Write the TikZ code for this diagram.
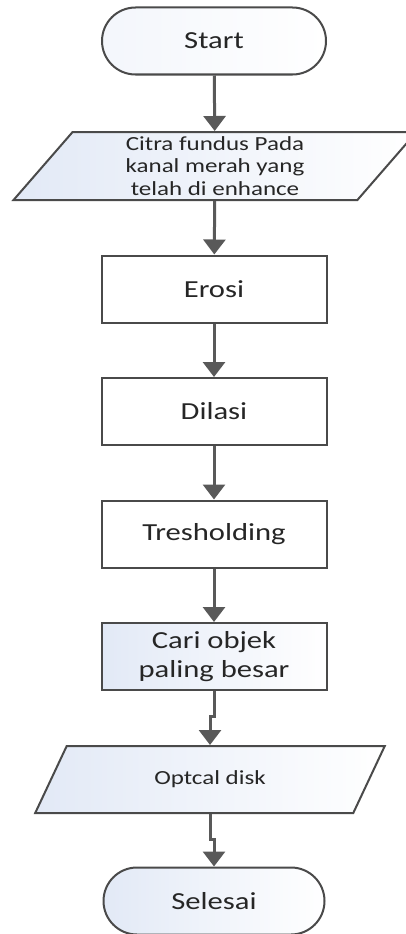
\documentclass[tikz,border=0pt]{standalone}
\usepackage{fontspec}
\setmainfont{Carlito}[FakeStretch=1.25]
\usetikzlibrary{arrows.meta,shapes.geometric,shapes.misc}
\definecolor{paleblue}{HTML}{E2E9F6}
\definecolor{edgegray}{HTML}{4A4A4A}
\tikzset{stepbox/.style={draw=edgegray,line width=2pt,align=center,fill=white,
 minimum width=225pt,minimum height=67pt,font=\fontsize{24.5}{29}\selectfont,inner sep=2pt,text=black!85},
 shadebox/.style={stepbox,left color=paleblue,right color=white},
 term/.style={stepbox,rounded rectangle,minimum width=228pt,left color=paleblue!40,right color=white},
 io/.style={stepbox,trapezium,trapezium left angle=59,trapezium right angle=121,
  trapezium stretches=true,left color=paleblue,right color=white,
  font=\fontsize{20}{22.5}\selectfont},
 arr/.style={-{Triangle[length=15pt,width=22pt]},draw=black!65,line width=3pt}}
\begin{document}
\begin{tikzpicture}[x=1pt,y=-1pt]
\useasboundingbox (0,0) rectangle (406,934);
\node[term] (start) at (214,41) {Start};
\node[io,minimum width=404pt,minimum height=68pt] (citra) at (215,166)
 {Citra fundus Pada\\kanal merah yang\\telah di enhance};
\node[stepbox] (erosi) at (214,289) {Erosi};
\node[stepbox] (dilasi) at (214,411.5) {Dilasi};
\node[stepbox] (thresh) at (214,534) {Tresholding};
\node[shadebox] (cari) at (214,656.5) {Cari objek\\paling besar};
\node[io,minimum width=350pt,minimum height=67pt] (disk) at (210,779.5) {Optcal disk};
\node[term,minimum width=225pt,left color=paleblue] (selesai) at (214,901) {Selesai};
\draw[arr] (start)--(citra);
\draw[arr] (citra)--(erosi);
\draw[arr] (erosi)--(dilasi);
\draw[arr] (dilasi)--(thresh);
\draw[arr] (thresh)--(cari);
\draw[arr] (cari.south)--++(0,25)-|(disk.north);
\draw[arr] (disk.south)--++(0,25)-|(selesai.north);
\end{tikzpicture}
\end{document}
